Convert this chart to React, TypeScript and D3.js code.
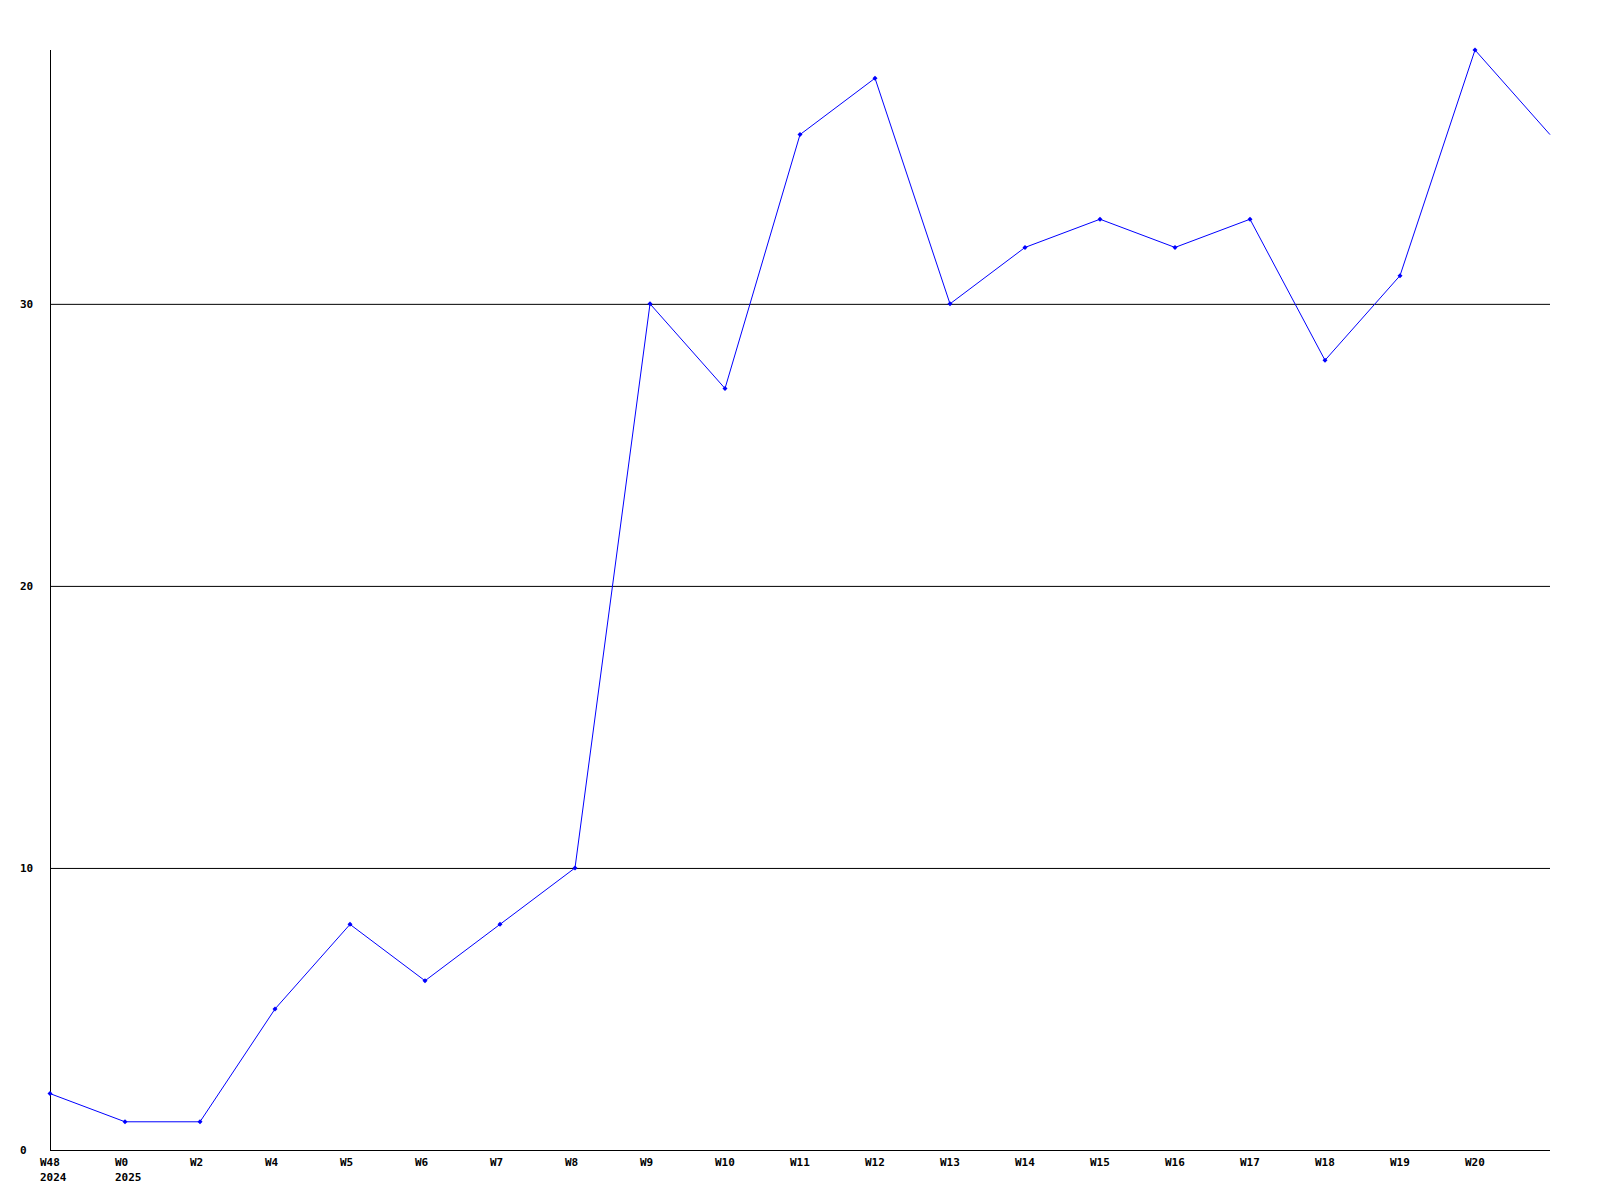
import React from "react";
import * as d3 from "d3";

const weekLabels = ["W48", "W0", "W2", "W4", "W5", "W6", "W7", "W8", "W9", "W10", "W11", "W12", "W13", "W14", "W15", "W16", "W17", "W18", "W19", "W20", ""];
const yearLabels = ["2024", "2025", "", "", "", "", "", "", "", "", "", "", "", "", "", "", "", "", "", "", ""];
const values = [2, 1, 1, 5, 8, 6, 8, 10, 30, 27, 36, 38, 30, 32, 33, 32, 33, 28, 31, 39, 36];
const yTicks = [0, 10, 20, 30];

const W = 1600;
const H = 1200;
const left = 50;
const right = 1550;
const top = 50;
const bottom = 1150;

export default function App() {
  const x = d3.scaleLinear().domain([0, values.length - 1]).range([left, right]);
  const y = d3.scaleLinear().domain([0, 39]).range([bottom, top]);
  const line = d3.line<number>().x((_, i) => x(i)).y((d) => y(d));
  const font = "'DejaVu Sans Mono', monospace";
  return (
    <svg width={W} height={H} style={{ position: "absolute", left: 0, top: 0, background: "#fff" }}>
      <rect x={0} y={0} width={W} height={H} fill="#fff" />
      {yTicks.map((t) => (
        <g key={t}>
          {t > 0 && <line x1={left} x2={right} y1={y(t) + 0.5} y2={y(t) + 0.5} stroke="#000" strokeWidth={1} />}
          <text x={20} y={y(t)} dy="0.35em" fontFamily={font} fontWeight="bold" fontSize={11} fill="#000">{t}</text>
        </g>
      ))}
      <line x1={left + 0.5} x2={left + 0.5} y1={top} y2={bottom} stroke="#000" strokeWidth={1} />
      <line x1={left} x2={right} y1={bottom + 0.5} y2={bottom + 0.5} stroke="#000" strokeWidth={1} />
      <path d={line(values) || ""} fill="none" stroke="#0000ff" strokeWidth={1} />
      {values.map((v, i) => (
        i < values.length - 1 ? (
          <path key={i} d={`M${x(i)},${y(v) - 2.5}L${x(i) + 2.5},${y(v)}L${x(i)},${y(v) + 2.5}L${x(i) - 2.5},${y(v)}Z`} fill="#0000ff" />
        ) : null
      ))}
      {weekLabels.map((l, i) => (
        <text key={"w" + i} x={x(i) - 10} y={1162} dy="0.35em" fontFamily={font} fontWeight="bold" fontSize={11} fill="#000">{l}</text>
      ))}
      {yearLabels.map((l, i) => (
        <text key={"y" + i} x={x(i) - 10} y={1177} dy="0.35em" fontFamily={font} fontWeight="bold" fontSize={11} fill="#000">{l}</text>
      ))}
    </svg>
  );
}
